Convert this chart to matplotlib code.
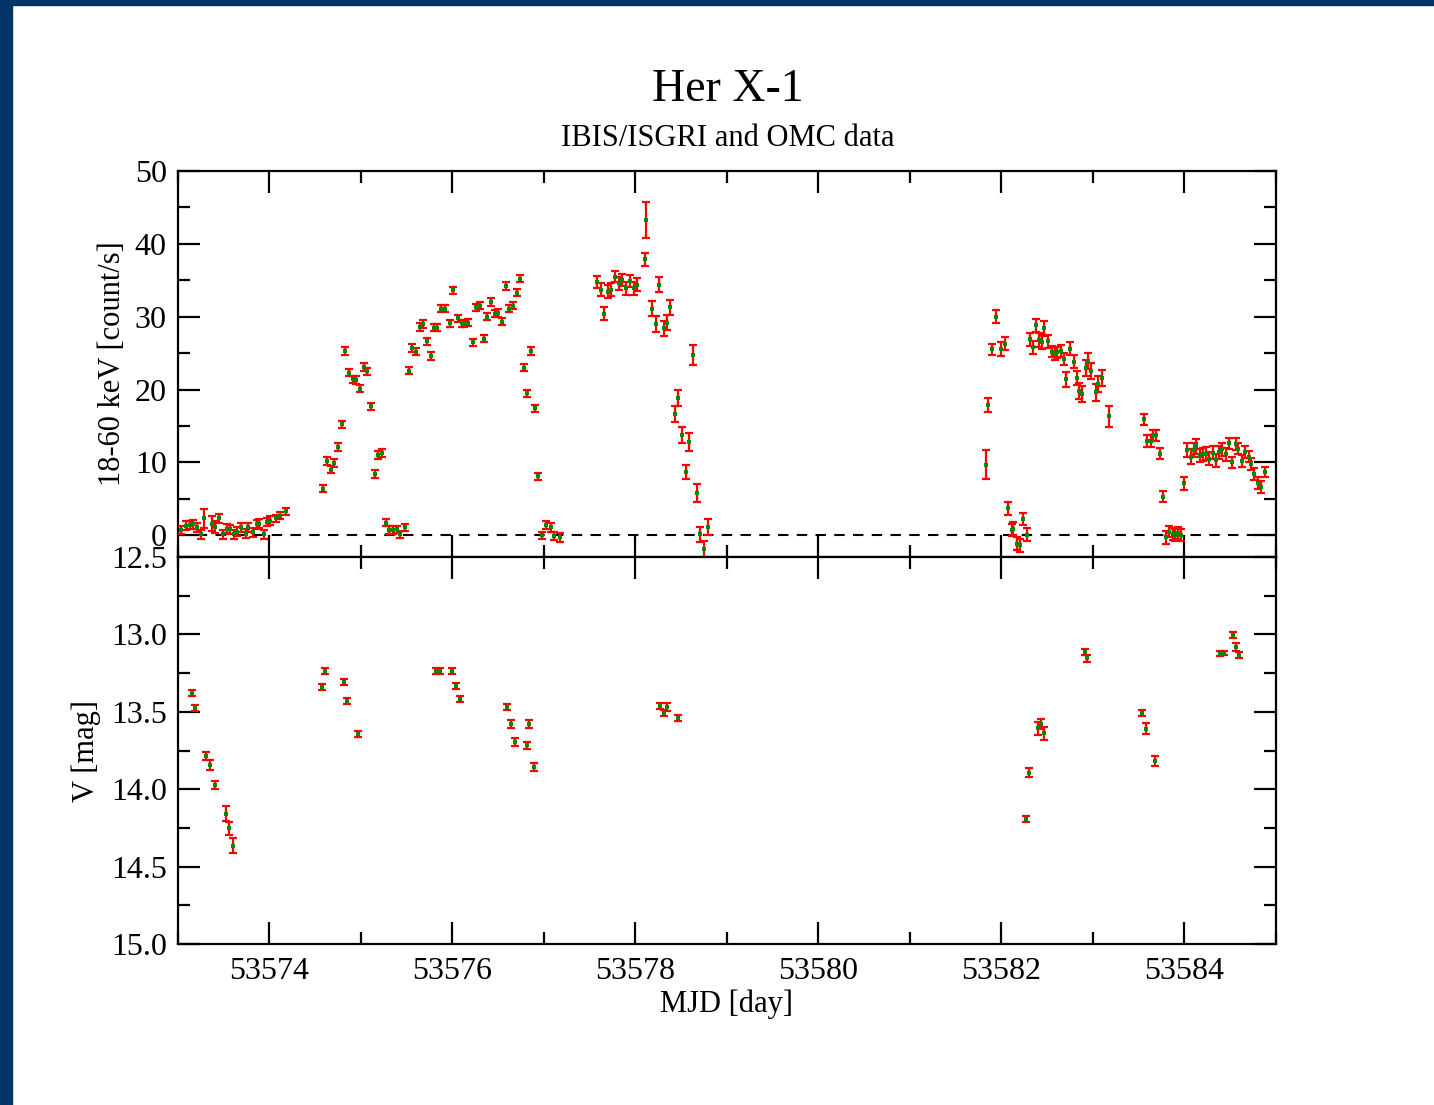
import numpy as np
import matplotlib
matplotlib.use("Agg")
import matplotlib.pyplot as plt
from matplotlib.patches import Rectangle
from matplotlib.ticker import MultipleLocator, FormatStrFormatter

plt.rcParams['font.family'] = ['Liberation Serif', 'DejaVu Serif']

# IBIS/ISGRI 18-60 keV light curve (MJD, count/s, error)
isgri_mjd = [
    53573.03, 53573.09, 53573.13, 53573.16, 53573.21, 53573.25, 53573.29, 53573.37, 53573.41,
    53573.45, 53573.49, 53573.54, 53573.57, 53573.61, 53573.65, 53573.69, 53573.74, 53573.77,
    53573.82, 53573.86, 53573.89, 53573.94, 53573.97, 53574.01, 53574.07, 53574.11, 53574.18,
    53574.59, 53574.63, 53574.67, 53574.71, 53574.75, 53574.79, 53574.83, 53574.87, 53574.91,
    53574.95, 53574.99, 53575.03, 53575.07, 53575.11, 53575.15, 53575.19, 53575.23, 53575.27,
    53575.31, 53575.35, 53575.39, 53575.43, 53575.48, 53575.52, 53575.56, 53575.60, 53575.64,
    53575.68, 53575.72, 53575.76, 53575.80, 53575.83, 53575.88, 53575.92, 53575.97, 53576.01,
    53576.06, 53576.10, 53576.13, 53576.17, 53576.22, 53576.26, 53576.30, 53576.34, 53576.38,
    53576.42, 53576.46, 53576.50, 53576.54, 53576.58, 53576.62, 53576.66, 53576.70, 53576.74,
    53576.78, 53576.82, 53576.86, 53576.90, 53576.94, 53576.98, 53577.02, 53577.08, 53577.11,
    53577.18,
    53577.58, 53577.62, 53577.66, 53577.70, 53577.73, 53577.78, 53577.82, 53577.85, 53577.90,
    53577.94, 53577.98, 53578.02, 53578.10, 53578.12, 53578.18, 53578.22, 53578.26, 53578.31,
    53578.34, 53578.38, 53578.43, 53578.46, 53578.51, 53578.55, 53578.59, 53578.63, 53578.67,
    53578.71, 53578.75, 53578.79,
    53581.83, 53581.85, 53581.90, 53581.94, 53582.00, 53582.04, 53582.07, 53582.11, 53582.13,
    53582.17, 53582.20, 53582.24, 53582.28, 53582.31, 53582.34, 53582.38, 53582.41, 53582.44,
    53582.47, 53582.51, 53582.55, 53582.58, 53582.61, 53582.65, 53582.68, 53582.71, 53582.75,
    53582.79, 53582.82, 53582.85, 53582.88, 53582.92, 53582.95, 53582.98, 53583.03, 53583.06,
    53583.10, 53583.17,
    53583.56, 53583.59, 53583.63, 53583.66, 53583.69, 53583.73, 53583.77, 53583.80, 53583.83,
    53583.87, 53583.90, 53583.93, 53583.96, 53584.00, 53584.03, 53584.07, 53584.10, 53584.13,
    53584.17, 53584.20, 53584.24, 53584.27, 53584.31, 53584.35, 53584.38, 53584.41, 53584.45,
    53584.49, 53584.52, 53584.56, 53584.59, 53584.63, 53584.66, 53584.70, 53584.73, 53584.76,
    53584.80, 53584.84, 53584.88,
]
isgri_rate = [
    0.7, 1.3, 1.4, 1.5, 1.1, 0.1, 2.3, 1.6, 1.1,
    2.3, 0.1, 0.9, 0.8, 0.1, 0.5, 1.1, 0.2, 1.1,
    0.4, 1.5, 1.6, 0.1, 1.8, 2.0, 2.3, 2.7, 3.3,
    6.4, 10.2, 9.0, 9.9, 12.1, 15.2, 25.3, 22.3, 21.4,
    21.3, 20.1, 23.1, 22.5, 17.7, 8.4, 11.0, 11.3, 1.7,
    0.7, 0.7, 0.8, 0.1, 1.1, 22.6, 25.7, 25.2, 28.6,
    29.0, 26.6, 24.6, 28.5, 28.5, 31.1, 31.1, 29.1, 33.6,
    29.8, 29.1, 29.1, 29.2, 26.5, 31.3, 31.5, 27.0, 30.0,
    32.0, 30.4, 30.5, 29.3, 34.2, 31.1, 31.5, 33.3, 35.2,
    23.0, 19.5, 25.3, 17.4, 8.1, 0.0, 1.4, 1.1, -0.1,
    -0.3,
    34.8, 33.7, 30.4, 33.4, 33.7, 35.5, 34.6, 35.0, 33.9,
    34.9, 33.9, 34.4, 37.9, 43.3, 31.1, 29.0, 34.4, 28.4,
    29.2, 31.3, 16.6, 18.9, 13.8, 8.7, 12.8, 24.7, 5.8,
    0.1, -1.9, 1.1,
    9.7, 17.9, 25.5, 30.0, 25.6, 26.3, 3.7, 0.7, 0.9,
    -1.2, -1.4, 2.2, 0.05, 26.9, 25.8, 28.8, 26.8, 26.5,
    28.4, 26.6, 25.2, 24.9, 25.1, 25.3, 24.2, 21.4, 25.6,
    23.8, 21.6, 19.8, 19.4, 22.9, 23.9, 22.6, 19.6, 20.8,
    21.6, 16.3,
    15.9, 12.9, 12.9, 13.7, 13.7, 11.2, 5.3, -0.3, 0.5,
    0.2, 0.0, 0.3, 0.0, 7.1, 11.7, 10.8, 11.7, 12.2,
    10.9, 11.1, 11.2, 10.5, 11.3, 10.3, 11.4, 11.8, 11.1,
    12.6, 10.0, 12.5, 11.9, 10.2, 11.4, 10.8, 9.8, 8.4,
    7.2, 6.6, 8.7,
]
isgri_err = [
    0.6, 0.6, 0.6, 0.6, 0.6, 0.6, 1.3, 1.0, 0.8,
    0.6, 0.6, 0.6, 0.6, 0.6, 0.6, 0.6, 0.6, 0.6,
    0.6, 0.6, 0.6, 0.6, 0.6, 0.6, 0.5, 0.5, 0.5,
    0.5, 0.5, 0.5, 0.5, 0.5, 0.5, 0.5, 0.5, 0.5,
    0.5, 0.5, 0.5, 0.5, 0.5, 0.5, 0.5, 0.5, 0.5,
    0.5, 0.5, 0.5, 0.5, 0.5, 0.5, 0.5, 0.5, 0.5,
    0.5, 0.5, 0.5, 0.5, 0.5, 0.5, 0.5, 0.5, 0.5,
    0.5, 0.5, 0.5, 0.5, 0.5, 0.5, 0.5, 0.5, 0.5,
    0.5, 0.5, 0.5, 0.5, 0.5, 0.5, 0.5, 0.5, 0.5,
    0.5, 0.5, 0.5, 0.5, 0.5, 0.5, 0.6, 0.6, 0.6,
    0.6,
    0.85, 0.9, 0.9, 0.9, 0.9, 0.8, 0.9, 0.8, 0.9,
    0.8, 0.9, 0.9, 0.9, 2.5, 1.0, 1.1, 1.0, 1.0,
    1.0, 1.0, 1.1, 1.1, 1.1, 1.0, 1.2, 1.4, 1.2,
    1.0, 1.1, 1.1,
    2.0, 0.95, 0.75, 0.9, 0.95, 0.9, 0.9, 0.8, 0.9,
    0.9, 0.9, 0.8, 0.9, 0.9, 0.9, 0.9, 1.0, 1.0,
    1.0, 0.9, 0.8, 0.9, 0.8, 0.8, 0.8, 1.0, 0.9,
    0.9, 1.0, 1.1, 1.1, 1.1, 1.1, 1.1, 1.2, 1.1,
    1.1, 1.5,
    0.75, 0.8, 0.8, 0.8, 0.8, 0.75, 0.75, 0.9, 0.8,
    0.8, 0.8, 0.8, 0.8, 0.9, 1.0, 1.0, 1.0, 1.0,
    0.9, 0.9, 0.9, 0.9, 0.9, 0.9, 0.9, 0.9, 0.9,
    0.8, 0.8, 0.8, 0.8, 0.8, 0.8, 0.8, 0.8, 0.8,
    0.8, 0.8, 0.7,
]

# OMC V band light curve (MJD, mag, error)
omc_mjd = [
    53573.155, 53573.19, 53573.31, 53573.35, 53573.40, 53573.52, 53573.56, 53573.60,
    53574.57, 53574.61, 53574.81, 53574.85, 53574.97,
    53575.82, 53575.86, 53575.99, 53576.04, 53576.08,
    53576.60, 53576.64, 53576.68, 53576.81, 53576.84, 53576.89,
    53578.27, 53578.31, 53578.35, 53578.46,
    53582.27, 53582.30, 53582.40, 53582.43, 53582.47, 53582.91, 53582.94,
    53583.54, 53583.58, 53583.68,
    53584.39, 53584.43, 53584.53, 53584.56, 53584.60,
]
omc_mag = [
    13.377, 13.473, 13.786, 13.844, 13.973, 14.158, 14.253, 14.365,
    13.338, 13.234, 13.309, 13.430, 13.643,
    13.234, 13.234, 13.234, 13.331, 13.415,
    13.467, 13.579, 13.693, 13.717, 13.579, 13.857,
    13.463, 13.510, 13.467, 13.538,
    14.195, 13.893, 13.607, 13.579, 13.639, 13.116, 13.155,
    13.510, 13.609, 13.818,
    13.125, 13.120, 13.006, 13.079, 13.133,
]
omc_err = [
    0.02, 0.02, 0.025, 0.03, 0.025, 0.047, 0.04, 0.047,
    0.02, 0.02, 0.02, 0.02, 0.02,
    0.02, 0.02, 0.02, 0.02, 0.02,
    0.02, 0.025, 0.025, 0.025, 0.025, 0.025,
    0.02, 0.02, 0.025, 0.02,
    0.02, 0.03, 0.04, 0.03, 0.04, 0.02, 0.02,
    0.02, 0.035, 0.035,
    0.015, 0.015, 0.02, 0.025, 0.02,
]

fig = plt.figure(figsize=(14.34, 11.05), dpi=100)
fig.patch.set_facecolor('white')
# dark frame on the left and top edges
fig.patches.append(Rectangle((0, 0), 12 / 1434, 1, transform=fig.transFigure,
                             color='#003366', zorder=-1))
fig.patches.append(Rectangle((0, 1 - 5 / 1105), 1, 5 / 1105, transform=fig.transFigure,
                             color='#003366', zorder=-1))

ax1 = fig.add_axes([0.1241, 0.4959, 0.7657, 0.3493])
ax2 = fig.add_axes([0.1241, 0.1457, 0.7657, 0.3502], sharex=ax1)


def draw_points(ax, x, y, yerr):
    ax.errorbar(x, y, yerr=yerr, fmt='none', ecolor='#ff0000', elinewidth=1.6,
                capsize=2.7, capthick=1.6, zorder=3)
    ax.errorbar(x, y, xerr=0.012, fmt='s', color='#008a00', ms=2.8, mew=0,
                elinewidth=1.6, capsize=0, zorder=4)


draw_points(ax1, isgri_mjd, isgri_rate, isgri_err)
ax1.axhline(0, color='black', ls=(0, (5, 4)), lw=1.5, zorder=2)
draw_points(ax2, omc_mjd, omc_mag, omc_err)

ax1.set_xlim(53573, 53585)
ax1.set_ylim(-3, 50)
ax2.set_ylim(15.0, 12.5)

ax1.yaxis.set_major_locator(MultipleLocator(10))
ax1.yaxis.set_minor_locator(MultipleLocator(5))
ax2.yaxis.set_major_locator(MultipleLocator(0.5))
ax2.yaxis.set_minor_locator(MultipleLocator(0.25))
ax2.yaxis.set_major_formatter(FormatStrFormatter('%.1f'))
ax1.xaxis.set_major_locator(MultipleLocator(2))
ax1.xaxis.set_minor_locator(MultipleLocator(1))
ax2.xaxis.set_major_formatter(FormatStrFormatter('%d'))

for ax in (ax1, ax2):
    for sp in ax.spines.values():
        sp.set_linewidth(1.6)
    ax.tick_params(which='both', direction='in', top=True, right=True, width=1.6,
                   labelsize=23, pad=8)
    ax.tick_params(which='major', length=16)
    ax.tick_params(which='minor', length=8.5)
ax1.tick_params(labelbottom=False)
ax2.tick_params(axis='x', pad=9)

ax1.set_ylabel('18-60 keV [count/s]', fontsize=22, labelpad=6)
ax2.set_ylabel('V [mag]', fontsize=22, labelpad=7)
ax2.set_xlabel('MJD [day]', fontsize=22, labelpad=3)

fig.text(0.5077, 1 - 90 / 1105, 'Her X-1', ha='center', va='center', fontsize=33)
fig.text(0.5077, 1 - 139 / 1105, 'IBIS/ISGRI and OMC data', ha='center', va='center',
         fontsize=22)

fig.savefig('out.png', dpi=100)
